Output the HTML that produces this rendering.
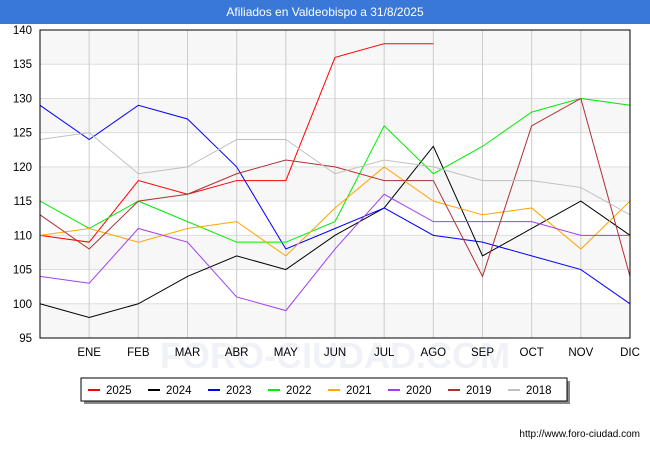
<!DOCTYPE html>
<html><head><meta charset="utf-8"><style>
body{margin:0;width:650px;height:450px;background:#fff;font-family:"Liberation Sans",sans-serif;overflow:hidden}
#title{position:absolute;left:0;top:0;width:650px;height:24px;background:#3a78d8;color:#fff;font-size:12px;line-height:24px;text-align:center}
svg{position:absolute;left:0;top:0}
</style></head><body>
<div id="title">Afiliados en Valdeobispo a 31/8/2025</div>
<svg id="c" width="650" height="450"></svg>
<script>
const months=["","ENE","FEB","MAR","ABR","MAY","JUN","JUL","AGO","SEP","OCT","NOV","DIC"];
const yTicks=[95,100,105,110,115,120,125,130,135,140];
const seriesNames=["2025","2024","2023","2022","2021","2020","2019","2018"];
const colors=["#ff0000","#000000","#0000ff","#00ee00","#ffa500","#a040f0","#b03030","#c0c0c0"];
const s2025=[110,109,118,116,118,118,136,138,138];
const s2024=[100,98,100,104,107,105,110,114,123,107,111,115,110];
const s2023=[129,124,129,127,120,108,111,114,110,109,107,105,100];
const s2022=[115,111,115,112,109,109,112,126,119,123,128,130,129];
const s2021=[110,111,109,111,112,107,114,120,115,113,114,108,115];
const s2020=[104,103,111,109,101,99,108,116,112,112,112,110,110];
const s2019=[113,108,115,116,119,121,120,118,118,104,126,130,104];
const s2018=[124,125,119,120,124,124,119,121,120,118,118,117,113];
const data=[s2025,s2024,s2023,s2022,s2021,s2020,s2019,s2018];
const L=40,R=630,T=30,B=338,ymin=95,ymax=140;
const x=i=>L+i*(R-L)/12, y=v=>B-(v-ymin)*(B-T)/(ymax-ymin);
const svg=document.getElementById('c'),NS="http://www.w3.org/2000/svg";
function mk(t,a,p){const e=document.createElementNS(NS,t);for(const k in a)e.setAttribute(k,a[k]);(p||svg).appendChild(e);return e;}
for(let i=0;i<yTicks.length-1;i++){if(i%2==0){const r=mk('rect',{x:L,y:y(yTicks[i+1]),width:R-L,height:y(yTicks[i])-y(yTicks[i+1]),fill:'#f7f7f7'});

}}
const wm=mk('text',{x:335,y:368,'font-size':36,fill:'#f0f2f8','text-anchor':'middle','font-weight':'bold'});
wm.textContent="FORO-CIUDAD.COM";


yTicks.forEach(v=>{const l=mk('line',{x1:L,x2:R,y1:y(v),y2:y(v),stroke:'#dddddd'});


const t=mk('text',{x:L-8,y:y(v)+4,'font-size':11.5,'text-anchor':'end',fill:'#000'});t.textContent=v;

});
months.forEach((m,i)=>{if(i>0){const l=mk('line',{x1:x(i),x2:x(i),y1:T,y2:B,stroke:'#cccccc'});

}
const t=mk('text',{x:x(i),y:B+18,'font-size':11.5,'text-anchor':'middle',fill:'#000'});t.textContent=m;

});
data.forEach((s,k)=>{const p=mk('polyline',{points:s.map((v,i)=>x(i)+','+y(v)).join(' '),fill:'none',stroke:colors[k],'stroke-width':1});

});
const fr=mk('rect',{x:L,y:T,width:R-L,height:B-T,fill:'none',stroke:'#000','stroke-width':1});


const lg=mk('g',{});


mk('rect',{x:84,y:381,width:486,height:23,fill:'#888'},lg);
mk('rect',{x:81,y:378,width:486,height:23,fill:'#fff',stroke:'#000'},lg);
seriesNames.forEach((n,k)=>{const gx=88+k*60;const g=mk('g',{},lg);


mk('line',{x1:gx,x2:gx+12,y1:390,y2:390,stroke:colors[k],'stroke-width':2},g);
const t=mk('text',{x:gx+18,y:394,'font-size':11.5,fill:'#000'},g);t.textContent=n;});
const u=mk('text',{x:640,y:437,'font-size':10,'text-anchor':'end',fill:'#000'});u.textContent="http://www.foro-ciudad.com";


</script>
</body></html>
